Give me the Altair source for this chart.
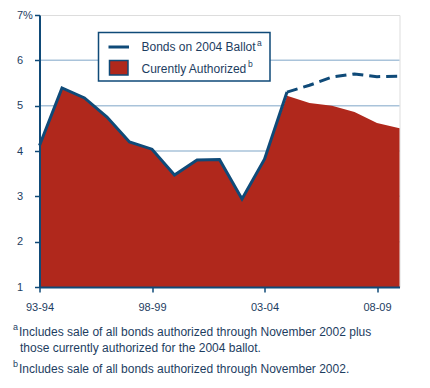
import altair as alt
import pandas as pd

years = ["93-94", "94-95", "95-96", "96-97", "97-98", "98-99", "99-00", "00-01",
         "01-02", "02-03", "03-04", "04-05", "05-06", "06-07", "07-08", "08-09", "09-10"]
authorized = [4.12, 5.39, 5.17, 4.75, 4.20, 4.04, 3.47, 3.80, 3.81, 2.94, 3.82,
              5.22, 5.06, 5.00, 4.86, 4.62, 4.50]
bonds = [4.12, 5.39, 5.17, 4.75, 4.20, 4.04, 3.47, 3.80, 3.81, 2.94, 3.82,
         5.30, 5.45, 5.63, 5.70, 5.64, 5.65]
split_index = 11  # bonds line turns dashed from 04-05 onward
x_tick_labels = ["93-94", "98-99", "03-04", "08-09"]
y_ticks = [1, 2, 3, 4, 5, 6, 7]
grid_values = [2, 3, 4, 5, 6]

legend_labels = ["Bonds on 2004 Ballot", "Curently Authorized"]
footnote_a = ["Includes sale of all bonds authorized through November 2002 plus",
              "those currently authorized for the 2004 ballot."]
footnote_b = "Includes sale of all bonds authorized through November 2002."

NAVY = "#0f4a78"
RED = "#b0281c"
GRID = "#a9c3da"
TEXT = "#1d3d5f"
FONT = "Liberation Sans"

df_auth = pd.DataFrame({"year": years, "value": authorized})
df_solid = pd.DataFrame({"year": years[:split_index + 1], "value": bonds[:split_index + 1]})
df_dash = pd.DataFrame({"year": years[split_index:], "value": bonds[split_index:]})
df_grid = pd.DataFrame({"value": grid_values})
one = pd.DataFrame({"k": [0]})

W, H = 360, 272

x_enc = alt.X("year:O", sort=years, scale=alt.Scale(type="point", padding=0),
              axis=alt.Axis(values=x_tick_labels, labelAngle=0, title=None, grid=False,
                            domainColor=NAVY, domainWidth=2, tickColor=NAVY, tickWidth=1.5,
                            tickSize=5, labelPadding=9, labelFontSize=11, labelFont=FONT,
                            labelColor=TEXT, zindex=1))
y_scale = alt.Scale(domain=[1, 7], zero=False, nice=False)
y_enc = alt.Y("value:Q", scale=y_scale,
              axis=alt.Axis(values=y_ticks, title=None, grid=False,
                            labelExpr="datum.value == 7 ? '7%' : datum.label",
                            domainColor=NAVY, domainWidth=2, tickColor=NAVY, tickWidth=1.5,
                            tickSize=5, labelAlign="left", labelPadding=18,
                            labelBaseline="middle", labelFontSize=11, labelFont=FONT,
                            labelColor=TEXT, zindex=1))

grid = alt.Chart(df_grid).mark_rule(color=GRID, strokeWidth=1.5).encode(y=y_enc)

area = alt.Chart(df_auth).mark_area(color=RED, opacity=1).encode(
    x=x_enc, y="value:Q", y2=alt.datum(1))

solid = alt.Chart(df_solid).mark_line(color=NAVY, strokeWidth=3, strokeJoin="miter").encode(
    x=alt.X("year:O", sort=years), y="value:Q")

dashed = alt.Chart(df_dash).mark_line(color=NAVY, strokeWidth=3, strokeDash=[11, 6]).encode(
    x=alt.X("year:O", sort=years), y="value:Q")

# legend box
leg_box = alt.Chart(one).mark_rect(fill="white", stroke=NAVY, strokeWidth=1.5).encode(
    x=alt.value(59), x2=alt.value(230.5), y=alt.value(17.5), y2=alt.value(66))
leg_line = alt.Chart(one).mark_rule(color=NAVY, strokeWidth=3).encode(
    x=alt.value(69), x2=alt.value(89.5), y=alt.value(32), y2=alt.value(32))
leg_sq = alt.Chart(one).mark_rect(fill=RED, stroke=NAVY, strokeWidth=1.5).encode(
    x=alt.value(70), x2=alt.value(88.5), y=alt.value(45.5), y2=alt.value(60))

def txt(s, x, y, size, baseline="alphabetic"):
    return alt.Chart(one).mark_text(text=s, align="left", baseline=baseline, font=FONT,
                                    fontSize=size, color=TEXT).encode(
        x=alt.value(x), y=alt.value(y))

leg_t1 = txt(legend_labels[0], 102, 36, 12)
leg_t1s = txt("a", 217.5, 30.5, 8.5)
leg_t2 = txt(legend_labels[1], 102, 57.5, 12)
leg_t2s = txt("b", 208.5, 52, 8.5)

fa_s = txt("a", -26.5, 315, 9)
fa1 = txt(footnote_a[0], -20.5, 321, 12)
fa2 = txt(footnote_a[1], -19.5, 337, 12)
fb_s = txt("b", -26.5, 352, 9)
fb1 = txt(footnote_b, -20.5, 358, 12)

chart = alt.layer(grid, area, solid, dashed, leg_box, leg_line, leg_sq,
                  leg_t1, leg_t1s, leg_t2, leg_t2s, fa_s, fa1, fa2, fb_s, fb1).properties(
    width=W, height=H,
    autosize=alt.AutoSizeParams(type="none"),
    padding={"left": 31.5, "top": 7, "right": 22.5, "bottom": 93},
).configure_view(stroke=NAVY, strokeWidth=1.5).configure(background="white")

chart.save("out.html", embed_options={"renderer": "svg", "actions": False})
